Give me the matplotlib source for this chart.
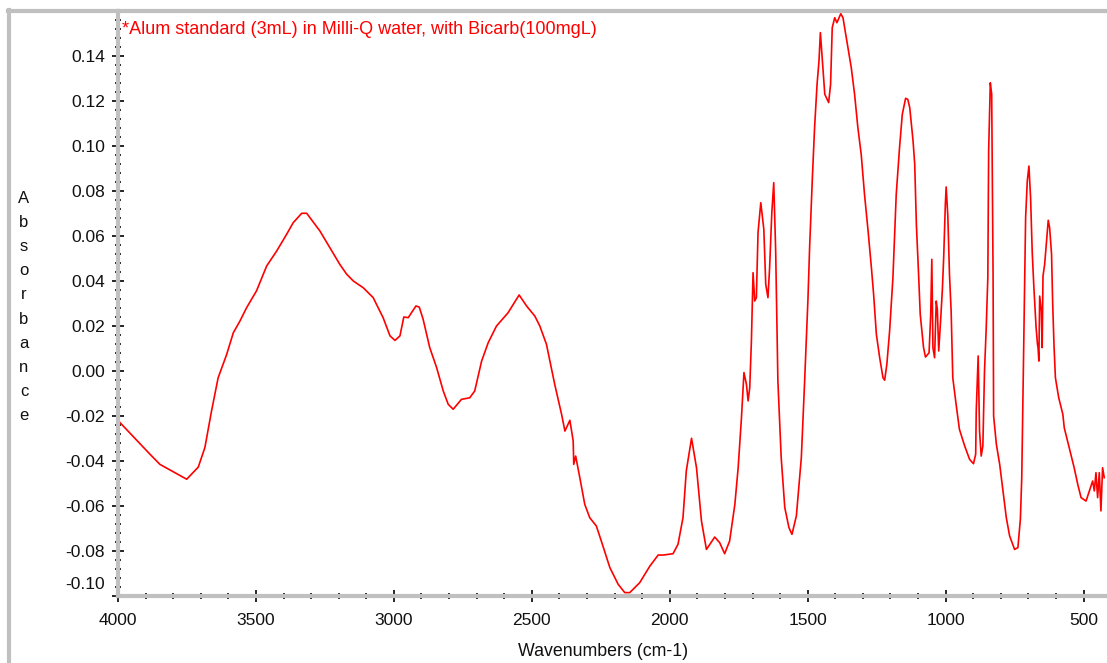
import matplotlib
matplotlib.use("Agg")
import matplotlib.pyplot as plt
from matplotlib.lines import Line2D
from matplotlib.ticker import MultipleLocator, FixedLocator
from matplotlib.transforms import ScaledTranslation

# ---- data ----
wavenumbers = [
    4000, 3990, 3884, 3848, 3751, 3709, 3685, 3661, 3637, 3606, 3582, 3558, 3534,
    3498, 3461, 3425, 3389, 3365, 3334, 3316, 3268, 3232, 3196, 3171, 3147, 3111,
    3075, 3039, 3014, 2996, 2978, 2964,
    2948, 2920, 2908, 2894, 2870, 2845, 2821, 2803, 2785, 2755, 2725, 2707, 2682,
    2658, 2628, 2586, 2546, 2519, 2489, 2471, 2447, 2417, 2392, 2380, 2362, 2350,
    2348, 2341, 2326, 2308, 2290, 2266, 2248, 2217, 2187, 2163, 2145, 2109, 2072,
    2042, 2024, 1988, 1970, 1952, 1940, 1921, 1903, 1885, 1867, 1837, 1819, 1801,
    1783, 1764, 1752, 1740, 1731, 1722, 1716, 1710, 1704, 1698, 1692, 1686, 1680,
    1670, 1659, 1652, 1644, 1638, 1630, 1623, 1616, 1608, 1596, 1583, 1568, 1557,
    1541, 1523, 1511, 1499, 1493, 1483, 1475, 1466, 1459, 1454, 1448, 1438, 1424,
    1417, 1411, 1402, 1394, 1380, 1372, 1358, 1342, 1330, 1318, 1306, 1294, 1281,
    1269, 1261, 1251, 1239, 1227, 1221, 1213, 1203, 1191, 1179, 1167, 1157, 1145,
    1137, 1130, 1118, 1112, 1106, 1098, 1092, 1086, 1080, 1073, 1060, 1054, 1050,
    1046, 1040, 1034, 1030, 1025, 1019, 1012, 1007, 1001, 998, 992, 986, 980, 974,
    962, 950, 931, 913, 899, 891, 889, 882, 877, 871, 865, 859, 853, 847, 844, 838,
    833, 828, 826, 816, 804, 792, 780, 768, 750, 738, 729, 724, 717, 710, 704, 698,
    692, 686, 680, 672, 667, 665, 662, 659, 653, 650, 647, 641, 635, 628, 623, 616,
    612, 607, 602, 590, 575, 570, 558, 546, 534, 521, 509, 491, 479, 467, 461, 455,
    449, 443, 437, 431, 425,
]
absorbance = [
    -0.0220, -0.0233, -0.0370, -0.0415, -0.0481, -0.0427, -0.0340, -0.0178, -0.0030,
    0.0074, 0.0170, 0.0222, 0.0281, 0.0356, 0.0467, 0.0533, 0.0607, 0.0659, 0.0701,
    0.0701, 0.0622, 0.0548, 0.0474, 0.0430, 0.0400, 0.0370, 0.0326, 0.0237, 0.0156,
    0.0136, 0.0156, 0.0240,
    0.0237, 0.0289, 0.0284,
    0.0230, 0.0104, 0.0015, -0.0089, -0.0148, -0.0170, -0.0126, -0.0119, -0.0089,
    0.0044, 0.0126, 0.0200, 0.0259, 0.0338, 0.0289, 0.0244, 0.0200, 0.0119, -0.0059,
    -0.0193, -0.0267, -0.0219, -0.0311, -0.0415, -0.0378, -0.0474, -0.0593, -0.0652,
    -0.0689, -0.0756, -0.0874, -0.0948, -0.0985, -0.0985, -0.0941, -0.0867, -0.0818,
    -0.0818, -0.0812, -0.0770, -0.0652, -0.0444, -0.0299, -0.0430, -0.0667, -0.0793,
    -0.0738, -0.0763, -0.0812, -0.0756, -0.0593, -0.0430, -0.0207, -0.0007, -0.0059,
    -0.0133, -0.0074, 0.0133, 0.0437, 0.0311, 0.0326, 0.0615, 0.0748, 0.0630, 0.0385,
    0.0326, 0.0459, 0.0704, 0.0837, 0.0533, -0.0044, -0.0385, -0.0607, -0.0696,
    -0.0726, -0.0644, -0.0385, -0.0044, 0.0319, 0.0548, 0.0859, 0.1081, 0.1274,
    0.1378, 0.1504, 0.1400, 0.1230, 0.1193, 0.1274, 0.1526, 0.1570, 0.1548, 0.1588,
    0.1570, 0.1467, 0.1348, 0.1230, 0.1081, 0.0963, 0.0785, 0.0622, 0.0459, 0.0341,
    0.0163, 0.0059, -0.0030, -0.0041, 0.0030, 0.0178, 0.0415, 0.0785, 0.0993, 0.1141,
    0.1212, 0.1207, 0.1170, 0.1022, 0.0919, 0.0652, 0.0430, 0.0252, 0.0178, 0.0104,
    0.0062, 0.0081, 0.0252, 0.0496, 0.0104, 0.0059, 0.0311, 0.0274, 0.0089, 0.0207,
    0.0356, 0.0504, 0.0741, 0.0818, 0.0689, 0.0430, 0.0267, -0.0030, -0.0148, -0.0259,
    -0.0333, -0.0393, -0.0412, -0.0370, -0.0178, 0.0067, -0.0267, -0.0378, -0.0333,
    0.0000, 0.0185, 0.0415, 0.0978, 0.1281, 0.1230, 0.0430, -0.0200, -0.0326, -0.0415,
    -0.0533, -0.0652, -0.0733, -0.0793, -0.0785, -0.0659, -0.0474, 0.0089, 0.0681,
    0.0844, 0.0911, 0.0770, 0.0526, 0.0370, 0.0193, 0.0119, 0.0104, 0.0044, 0.0333,
    0.0267, 0.0104, 0.0422, 0.0474, 0.0563, 0.0670, 0.0637, 0.0519, 0.0304, 0.0111,
    -0.0030, -0.0119, -0.0193, -0.0252, -0.0311, -0.0370, -0.0430, -0.0504, -0.0563,
    -0.0578, -0.0533, -0.0489, -0.0533, -0.0452, -0.0563, -0.0452, -0.0622, -0.0430,
    -0.0474,
]

title_text = "*Alum standard (3mL) in Milli-Q water, with Bicarb(100mgL)"
x_label = "Wavenumbers (cm-1)"
y_label = "Absorbance"
x_major = [4000, 3500, 3000, 2500, 2000, 1500, 1000, 500]
y_major = [-0.10, -0.08, -0.06, -0.04, -0.02, 0.00, 0.02, 0.04, 0.06, 0.08, 0.10, 0.12, 0.14]

# ---- figure ----
W, H = 1107, 663
plt.rcParams['font.family'] = ['Liberation Sans', 'DejaVu Sans']
fig = plt.figure(figsize=(W / 100, H / 100), dpi=100, facecolor='white')

def fx(px):
    return px / W

def fy(py):
    return 1 - py / H

ax_l, ax_r, ax_t, ax_b = 118, 1107, 11, 596
ax = fig.add_axes([fx(ax_l), fy(ax_b), fx(ax_r - ax_l), (ax_b - ax_t) / H])
ax.set_facecolor('white')

ax.plot(wavenumbers, absorbance, color='#ff0000', linewidth=1.2)
ax.set_xlim(4000, 415)
ax.set_ylim(-0.10, 0.16)

gray = '#c0c0c0'
for s in ['left', 'bottom']:
    ax.spines[s].set_color(gray)
    ax.spines[s].set_linewidth(3)
ax.spines['right'].set_visible(False)
ax.spines['top'].set_color(gray)
ax.spines['top'].set_linewidth(3)

ax.xaxis.set_major_locator(FixedLocator(x_major))
ax.xaxis.set_minor_locator(MultipleLocator(100))
ax.yaxis.set_major_locator(FixedLocator(y_major))
ax.yaxis.set_minor_locator(MultipleLocator(0.004))
ax.set_xticklabels([str(v) for v in x_major])
ax.set_yticklabels([f"{v:.2f}" for v in y_major])

ax.tick_params(axis='both', which='major', direction='inout', length=9, width=1.2,
               color='black', labelsize=12.5, labelcolor='#111111')
ax.tick_params(axis='both', which='minor', direction='inout', length=4, width=1.2,
               color='black')
ax.tick_params(axis='x', which='major', pad=8)
ax.tick_params(axis='y', which='major', pad=5)

# nudge the bottom y tick label upward, as in the reference
fig.canvas.draw()
for lab in ax.get_yticklabels():
    if lab.get_text() == "-0.10":
        lab.set_transform(lab.get_transform() + ScaledTranslation(0, 13 / 100, fig.dpi_scale_trans))

# outer frame lines
fig.add_artist(Line2D([fx(9), fx(9)], [fy(10), 0], transform=fig.transFigure,
                      color=gray, linewidth=3))
fig.add_artist(Line2D([fx(8), fx(ax_l)], [fy(11), fy(11)], transform=fig.transFigure,
                      color=gray, linewidth=3))

# texts
fig.text(fx(122), fy(30), title_text, color='#ff0000', fontsize=13, ha='left', va='center')
fig.text(fx(603), fy(652), x_label, fontsize=12.8, ha='center', va='center', color='#111111')
fig.text(fx(24), fy(307), "\n".join(y_label), fontsize=12, ha='center', va='center',
         linespacing=1.76, color='#111111')

fig.savefig("out.png", dpi=100, facecolor='white')
